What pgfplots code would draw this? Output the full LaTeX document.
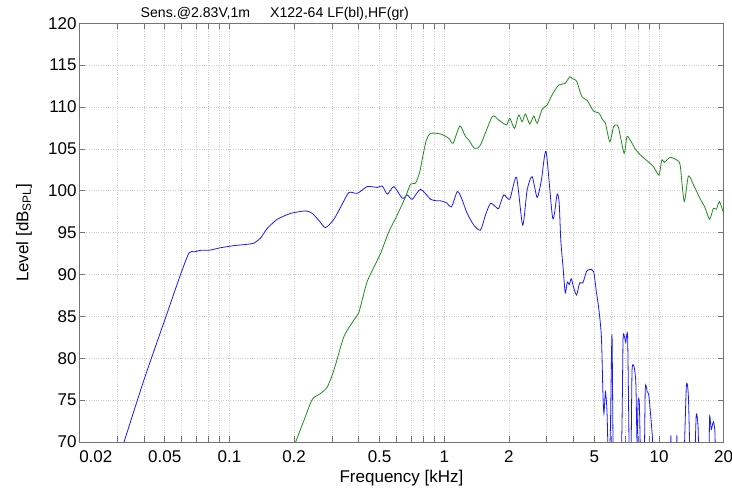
\documentclass[border=0pt]{standalone}
\usepackage{fontspec}
\setmainfont{Liberation Sans}
\usepackage{pgfplots}
\pgfplotsset{compat=1.18}
\definecolor{mblue}{RGB}{25,25,255}
\definecolor{mgreen}{RGB}{30,140,30}
\definecolor{gridc}{RGB}{205,205,205}
\begin{document}
\begin{tikzpicture}[x=1pt,y=1pt]
\useasboundingbox (0,0) rectangle (732,490);
\node[anchor=base west, font=\fontsize{14.1}{16}\selectfont, inner sep=0pt] at (140.5,472.7) {Sens.@2.83V,1m\hspace{20pt}X122-64 LF(bl),HF(gr)};
\begin{axis}[
  at={(79.3pt,48pt)}, anchor=south west,
  width=644.4pt, height=418.7pt, scale only axis,
  xmode=log, xmin=0.02, xmax=20, ymin=70, ymax=120,
  xtick={0.02,0.05,0.1,0.2,0.5,1,2,5,10,20},
  xticklabels={\rlap{0.02},0.05,0.1,0.2,0.5,1,2,5,10,20},
  minor xtick={0.03,0.04,0.06,0.07,0.08,0.09,0.3,0.4,0.6,0.7,0.8,0.9,3,4,6,7,8,9},
  ytick={70,75,...,120},
  grid=both,
  major grid style={gridc, dotted, line width=0.6pt},
  minor grid style={gridc, dotted, line width=0.6pt},
  tick align=inside,
  major tick length=6pt, minor tick length=6pt,
  every tick/.style={black!55, line width=0.6pt},
  axis line style={black!55, line width=0.8pt},
  /pgf/number format/assume math mode=true,
  tick label style={font=\fontsize{17}{20}\selectfont},
  xticklabel style={anchor=base, inner sep=0pt, yshift=-20.7pt},
  yticklabel style={anchor=east, inner sep=0pt, xshift=-2.6pt},
  label style={font=\fontsize{17}{20}\selectfont},
  xlabel={Frequency [kHz]},
  xlabel style={at={(axis description cs:0.5,0)}, anchor=base, inner sep=0pt, yshift=-41pt},
  ylabel={Level [dB\textsubscript{SPL}]},
  ylabel style={at={(axis description cs:0,0.5)}, anchor=base, inner sep=0pt, yshift=51pt},
]
\addplot[mblue, line width=0.8pt, smooth, tension=0.4] coordinates {
(0.028,65.2) (0.0323,70.0) (0.0401,77.5) (0.0505,84.9) (0.0594,90.1) (0.0649,92.6)
(0.0685,92.7) (0.0738,92.9) (0.0806,92.9) (0.0911,93.2) (0.105,93.45) (0.120,93.6)
(0.130,93.75) (0.140,94.4) (0.150,95.5) (0.167,96.6) (0.193,97.3) (0.226,97.6)
(0.243,97.3) (0.262,96.4) (0.280,95.6) (0.3065,96.6) (0.335,98.4) (0.360,99.8)
(0.394,99.7) (0.4385,100.5) (0.488,100.4) (0.515,100.57) (0.543,99.6) (0.583,100.49)
(0.638,99.1) (0.673,99.5) (0.710,98.98) (0.776,100.18) (0.864,98.98) (0.928,98.8)
(0.961,98.8) (1.02,98.6) (1.081,98.1) (1.149,99.9) (1.20,99.2) (1.279,97.3)
(1.373,95.9) (1.475,95.3) (1.556,97.1) (1.642,98.5) (1.751,98.0) (1.794,97.9)
(1.892,99.5) (2.019,99.0) (2.169,101.6) (2.318,95.9) (2.432,100.1) (2.565,101.7)
(2.707,99.2) (2.835,101.3) (2.98,104.67) (3.2,96.7) (3.355,99.6) (3.43,98.5)
(3.488,94.1) (3.574,90.9) (3.66,87.8) (3.74,89.1) (3.82,88.8) (3.9,89.5)
(4.0,88.5) (4.13,87.55) (4.27,89.0) (4.42,89.0) (4.59,90.34) (4.75,90.6)
(4.96,90.34) (5.11,87.9) (5.24,85.97) (5.39,82.6) (5.48,75.8) (5.54,73.4)
(5.63,76.0) (5.73,73.4) (5.83,66) (5.94,71.8) (6.04,82.8) (6.14,66)
(6.45,60) (6.7,70) (6.8,82.2) (6.9,82.6) (7.0,81.9) (7.14,82.6) (7.25,70) (7.32,64)
(7.42,70) (7.49,78.6) (7.65,79.0) (7.8,77) (7.9,70) (7.99,74.8) (8.1,74.5) (8.24,66)
(8.51,66) (8.63,76.4) (8.81,76.0) (8.98,75.4) (9.31,70.6) (9.45,66) (10.2,60)
(11.25,66) (11.36,70.8) (11.45,66) (11.7,63) (12.0,66) (12.1,70.8) (12.2,66)
(12.6,62) (13.0,66) (13.4,76.6) (13.7,75.4) (14.0,66) (14.3,63) (14.6,66)
(14.9,73.2) (15.2,71.8) (15.4,66) (16.2,62) (17.0,66) (17.2,73.0) (17.5,71.5)
(17.9,72.4) (18.2,71.2) (18.4,66) (19,62) (20,60)
};
\addplot[mgreen, line width=0.8pt, smooth, tension=0.4] coordinates {
(0.195,68.8) (0.2034,70.0) (0.2224,72.6) (0.2432,75.1) (0.2658,75.8) (0.2858,76.6)
(0.3067,78.6) (0.3413,82.6) (0.38,84.57) (0.4012,85.56) (0.435,88.95) (0.4625,90.5)
(0.505,92.5) (0.552,95.1) (0.604,97.1) (0.661,99.3) (0.697,100.8) (0.735,100.9)
(0.77,102.3) (0.80,104.5) (0.827,106.1) (0.864,106.86) (0.961,106.78) (1.05,106.27)
(1.10,105.67) (1.182,107.74) (1.256,106.46) (1.302,106.06) (1.383,105.07) (1.475,105.47)
(1.672,108.85) (1.794,108.45) (1.949,107.86) (2.019,108.66) (2.123,107.46) (2.222,109.05)
(2.304,108.25) (2.388,109.17) (2.5,107.97) (2.613,108.93) (2.707,108.06) (2.857,109.73)
(3.01,110.24) (3.177,111.44) (3.411,112.63) (3.66,112.83) (3.837,113.62) (3.95,113.4)
(4.08,113.23) (4.15,113.0) (4.38,111.2) (4.63,110.8) (4.96,109.5) (5.24,109.3)
(5.48,108.45) (5.63,108.06) (5.9,105.86) (6.14,107.65) (6.34,107.86) (6.49,107.46)
(6.88,104.47) (7.09,106.46) (7.34,106.06) (7.77,104.95) (8.19,104.27) (8.79,103.59)
(9.42,102.88) (9.99,101.88) (10.3,103.67) (10.6,103.4) (11.26,104.0) (12.1,103.67)
(12.54,103.07) (13.1,98.7) (13.7,101.77) (14.48,100.69) (15.5,99.1) (16.3,98.1)
(17.2,96.6) (17.9,97.9) (18.5,97.8) (19.1,98.7) (20,97.3)
};
\end{axis}
\end{tikzpicture}
\end{document}
